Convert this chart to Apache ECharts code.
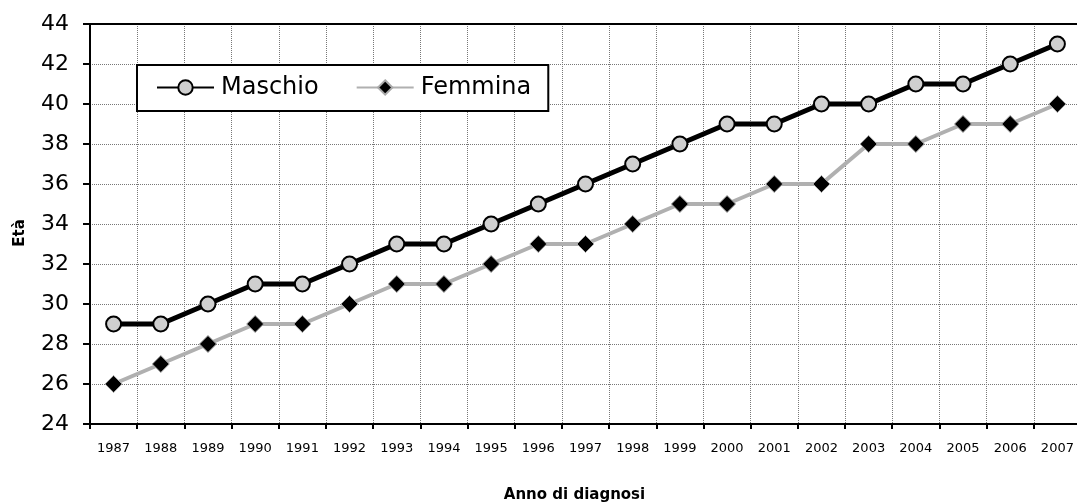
<!DOCTYPE html>
<html><head><meta charset="utf-8">
<script src="https://cdn.jsdelivr.net/npm/echarts@6/dist/echarts.min.js"></script>
<style>html,body{margin:0;padding:0;background:#fff}#c{width:1077px;height:503px}</style>
</head><body><div id="c"></div>
<script>
const years = ['1987','1988','1989','1990','1991','1992','1993','1994','1995','1996','1997','1998','1999','2000','2001','2002','2003','2004','2005','2006','2007'];
const maschio = [29,29,30,31,31,32,33,33,34,35,36,37,38,39,39,40,40,41,41,42,43];
const femmina = [26,27,28,29,29,30,31,31,32,33,33,34,35,35,36,36,38,38,39,39,40];
const yTicks = [24,26,28,30,32,34,36,38,40,42,44];

const chart = echarts.init(document.getElementById('c'), null, {renderer:'canvas'});
const font = 'Tahoma, "DejaVu Sans", Verdana, sans-serif';
chart.setOption({
  animation:false,
  backgroundColor:'#fff',
  textStyle:{fontFamily:font},
  grid:{left:90, top:24, width:991, height:400, containLabel:false, outerBoundsMode:'none'},
  legend:{
    left:137, top:65,
    data:['Maschio','Femmina'],
    orient:'horizontal',
    itemWidth:57, itemHeight:18, itemGap:37,
    padding:[10,17,11,19],
    borderColor:'#000', borderWidth:2, backgroundColor:'#fff',
    textStyle:{fontSize:24, lineHeight:25, color:'#000', fontFamily:font, padding:[0,0,0,2]},
  },
  xAxis:{
    type:'category', data:years, boundaryGap:true,
    axisLine:{lineStyle:{color:'#000', width:2}},
    axisTick:{show:true, length:5, lineStyle:{color:'#000', width:2}},
    axisLabel:{fontSize:13, color:'#000', margin:18, interval:0},
    splitLine:{show:true, lineStyle:{color:'#777', type:'dotted', width:1}},
    name:'Anno di diagnosi', nameLocation:'middle', nameGap:64,
    nameTextStyle:{fontSize:15, fontWeight:'bold', color:'#000', padding:[0,22,0,0]}
  },
  yAxis:{
    type:'value', min:24, max:44, interval:2,
    axisLine:{show:true, lineStyle:{color:'#000', width:2}},
    axisTick:{show:true, length:7, lineStyle:{color:'#000', width:2}},
    axisLabel:{fontSize:22, color:'#000', margin:21,
      formatter:v=>yTicks.includes(v)?String(v):''},
    splitLine:{show:true, lineStyle:{color:'#777', type:'dotted', width:1}},
    name:'Età', nameLocation:'middle', nameGap:62, nameRotate:90,
    nameTextStyle:{fontSize:15, fontWeight:'bold', color:'#000', padding:[0,18,0,0]}
  },
  series:[
    {name:'Maschio', type:'line', data:maschio, z:3,
     symbol:'circle', symbolSize:15,
     lineStyle:{color:'#000', width:5},
     itemStyle:{color:'#cfcfcf', borderColor:'#000', borderWidth:2}},
    {name:'Femmina', type:'line', data:femmina, z:2,
     symbol:'diamond', symbolSize:17,
     lineStyle:{color:'#b0b0b0', width:4},
     itemStyle:{color:'#000', borderColor:'#aaa', borderWidth:1}},
    {type:'line', data:[], markLine:{silent:true, symbol:'none', label:{show:false},
      lineStyle:{color:'#000', type:'solid', width:2}, data:[{yAxis:44}]}}
  ]
});
</script></body></html>
